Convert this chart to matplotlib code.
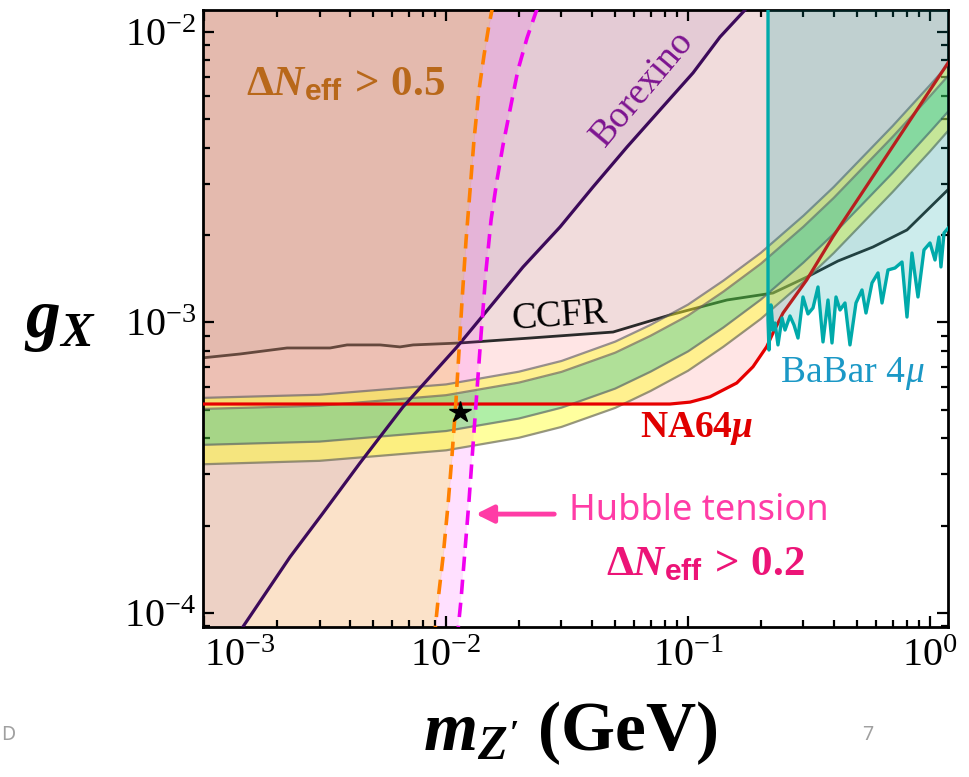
import numpy as np
import matplotlib
matplotlib.use("Agg")
import matplotlib.pyplot as plt
from matplotlib.ticker import NullFormatter

plt.rcParams["font.family"] = ["Liberation Serif", "DejaVu Serif"]
plt.rcParams["mathtext.fontset"] = "custom"
plt.rcParams["mathtext.rm"] = "Liberation Serif:bold"
plt.rcParams["mathtext.it"] = "Liberation Serif:italic:bold"
plt.rcParams["mathtext.bf"] = "Liberation Serif:bold"
plt.rcParams["mathtext.sf"] = "Liberation Sans:bold"

# ── data ────────────────────────────────────────────────────────────
# muon g-2 bands: outer (yellow) and inner (green) edges
m_band = [0.00098, 0.003, 0.01, 0.02, 0.03, 0.05, 0.07, 0.1, 0.14, 0.2, 0.3, 0.4, 0.7, 1.0, 1.2]
g_yel_top = [5.50e-4, 5.64e-4, 6.12e-4, 6.77e-4, 7.37e-4, 8.59e-4, 9.81e-4, 1.152e-3,
             1.393e-3, 1.737e-3, 2.331e-3, 2.926e-3, 4.74e-3, 6.56e-3, 7.78e-3]
g_grn_top = [5.04e-4, 5.17e-4, 5.62e-4, 6.21e-4, 6.76e-4, 7.87e-4, 9.00e-4, 1.056e-3,
             1.277e-3, 1.593e-3, 2.137e-3, 2.683e-3, 4.35e-3, 6.01e-3, 7.13e-3]
g_grn_bot = [3.79e-4, 3.89e-4, 4.23e-4, 4.67e-4, 5.09e-4, 5.92e-4, 6.77e-4, 7.95e-4,
             9.61e-4, 1.199e-3, 1.608e-3, 2.019e-3, 3.27e-3, 4.53e-3, 5.37e-3]
g_yel_bot = [3.25e-4, 3.34e-4, 3.63e-4, 4.01e-4, 4.37e-4, 5.08e-4, 5.81e-4, 6.82e-4,
             8.25e-4, 1.029e-3, 1.380e-3, 1.733e-3, 2.81e-3, 3.88e-3, 4.61e-3]

# NA64mu
m_na64 = [0.00098, 0.0842, 0.102, 0.1233, 0.159, 0.1856, 0.2114, 0.2245, 0.247,
          0.3093, 0.3973, 0.5136, 0.6626, 0.8013, 0.969, 1.19]
g_na64 = [5.24e-4, 5.24e-4, 5.32e-4, 5.55e-4, 6.19e-4, 7.04e-4, 8.25e-4, 9.20e-4, 1.078e-3,
          1.40e-3, 1.974e-3, 2.724e-3, 3.754e-3, 4.77e-3, 6.06e-3, 7.85e-3]

# CCFR
m_ccfr = [0.00098, 0.001409, 0.002203, 0.003317, 0.0039, 0.00534, 0.00645, 0.00731, 0.01143,
          0.02224, 0.049, 0.0842, 0.1449, 0.2245, 0.3101, 0.4168, 0.5814, 0.8035, 1.19]
g_ccfr = [7.55e-4, 7.79e-4, 8.17e-4, 8.17e-4, 8.37e-4, 8.37e-4, 8.24e-4, 8.37e-4, 8.50e-4,
          8.84e-4, 9.27e-4, 1.061e-3, 1.195e-3, 1.263e-3, 1.434e-3, 1.628e-3, 1.819e-3,
          2.082e-3, 2.87e-3]

# Borexino
m_bx = [0.00140, 0.002266, 0.003102, 0.00441, 0.00664, 0.0111, 0.0152, 0.0208, 0.0296,
        0.0405, 0.056, 0.0766, 0.1049, 0.1356, 0.172, 0.2]
g_bx = [8.6e-5, 1.559e-4, 2.209e-4, 3.284e-4, 5.12e-4, 8.24e-4, 1.131e-3, 1.552e-3, 2.132e-3,
        2.927e-3, 4.02e-3, 5.39e-3, 7.23e-3, 9.61e-3, 1.19e-2, 1.4e-2]

# Delta N_eff > 0.5 (orange) and > 0.2 (magenta)
m_n05 = [0.00892, 0.00927, 0.00972, 0.01019, 0.01059, 0.01100, 0.01132, 0.01165, 0.01210,
         0.01257, 0.01305, 0.01369, 0.01436, 0.01505, 0.01579]
g_n05 = [8.07e-5, 1.109e-4, 1.559e-4, 2.354e-4, 3.50e-4, 5.41e-4, 8.04e-4, 1.195e-3, 1.923e-3,
         2.858e-3, 4.25e-3, 6.32e-3, 8.33e-3, 1.057e-2, 1.289e-2]
m_n02 = [0.01110, 0.01153, 0.01198, 0.01245, 0.01293, 0.01343, 0.01395, 0.01464, 0.01535,
         0.01624, 0.01720, 0.01838, 0.01983, 0.02161, 0.02354, 0.02469]
g_n02 = [8.07e-5, 1.109e-4, 1.648e-4, 2.449e-4, 3.79e-4, 5.86e-4, 9.06e-4, 1.516e-3, 2.254e-3,
         3.094e-3, 4.08e-3, 5.39e-3, 7.40e-3, 9.53e-3, 1.172e-2, 1.289e-2]

# BaBar 4mu
m_bb = [0.2141, 0.2161, 0.2203, 0.2245, 0.2288, 0.2354, 0.2446, 0.2517, 0.2639, 0.2742, 0.2848,
        0.2987, 0.3132, 0.3285, 0.3445, 0.3613, 0.3789, 0.3936, 0.4089, 0.4248, 0.4454, 0.4670,
        0.4945, 0.5236, 0.5439, 0.5759, 0.6098, 0.6335, 0.6706, 0.7168, 0.7663, 0.8035, 0.8425,
        0.8920, 0.9445, 1.0, 1.049, 1.089, 1.110, 1.143, 1.19]
g_bb = [1.02e-3, 8.04e-4, 1.149e-3, 9.42e-4, 9.96e-4, 8.37e-4, 1.036e-3, 9.42e-4, 1.053e-3,
        9.80e-4, 8.84e-4, 1.224e-3, 1.070e-3, 1.122e-3, 1.325e-3, 8.57e-4, 1.195e-3, 8.50e-4,
        1.224e-3, 1.104e-3, 1.167e-3, 8.37e-4, 1.167e-3, 1.294e-3, 1.078e-3, 1.368e-3, 1.481e-3,
        1.167e-3, 1.516e-3, 1.540e-3, 1.615e-3, 1.044e-3, 1.734e-3, 1.224e-3, 1.777e-3, 1.878e-3,
        1.641e-3, 1.968e-3, 1.553e-3, 2.033e-3, 2.115e-3]

star_m, star_g = 0.01143, 4.93e-4

x_ticks = [1e-3, 1e-2, 1e-1, 1e0]
x_ticklabels = [r"$\mathdefault{10^{-3}}$", r"$\mathdefault{10^{-2}}$",
                r"$\mathdefault{10^{-1}}$", r"$\mathdefault{10^{0}}$"]
y_ticks = [1e-4, 1e-3, 1e-2]
y_ticklabels = [r"$\mathdefault{10^{-4}}$", r"$\mathdefault{10^{-3}}$", r"$\mathdefault{10^{-2}}$"]

TOP = 1.0

# ── figure ─────────────────────────────────────────────────────────
fig = plt.figure(figsize=(9.7, 7.77), dpi=100)
ax = fig.add_axes([203 / 970, 1 - 627 / 777, 745 / 970, 617 / 777])
ax.set_xscale("log")
ax.set_yscale("log")

# excluded regions
ax.fill_between(m_na64, g_na64, TOP, color="#ff0000", alpha=0.10, lw=0, zorder=1)
ax.fill_between(m_ccfr, g_ccfr, TOP, color="#789090", alpha=0.10, lw=0, zorder=1)
ax.plot(m_ccfr, g_ccfr, color="#2a2a2a", lw=2.0, zorder=1.2)
ax.fill_betweenx(g_n05, 1e-4, m_n05, color="#f08c28", alpha=0.25, lw=0, zorder=1.3)
ax.fill(m_n05 + m_n02[::-1], g_n05 + g_n02[::-1], color="#ff00ff", alpha=0.12, lw=0, zorder=1.3)
ax.fill_between([1e-4] + m_bx, [1e-5] + g_bx, TOP, color="#a070b0", alpha=0.15, lw=0, zorder=1.4)

# g-2 bands
ax.fill_between(m_band, g_grn_top, g_yel_top, color="#ffff28", alpha=0.45, lw=0, zorder=2)
ax.fill_between(m_band, g_yel_bot, g_grn_bot, color="#ffff28", alpha=0.45, lw=0, zorder=2)
ax.fill_between(m_band, g_grn_bot, g_grn_top, color="#50dc3c", alpha=0.45, lw=0, zorder=2)
for edge in (g_yel_top, g_grn_top, g_grn_bot, g_yel_bot):
    ax.plot(m_band, edge, color="#606060", alpha=0.65, lw=1.6, zorder=2.5)

# lines
ax.plot(m_na64, g_na64, color="#e60000", lw=2.3, zorder=3)
ax.plot(m_bx, g_bx, color="#3c0a5a", lw=2.3, zorder=3)
ax.plot(m_n05, g_n05, color="#ff8000", lw=2.6, ls=(0, (4, 2.4)), zorder=3.5)
ax.plot(m_n02, g_n02, color="#f000f0", lw=2.6, ls=(0, (4, 2.4)), zorder=3.5)

# BaBar on top
ax.fill_between(m_bb, g_bb, TOP, color="#00a0a0", alpha=0.20, lw=0, zorder=4)
ax.plot([m_bb[0]] + m_bb, [0.05] + g_bb, color="#00aaaa", lw=2.4, zorder=4.5)

ax.plot(star_m, star_g, marker="*", ms=16, color="black", zorder=6)

# labels inside
ax.text(3.83e-3, 6.57e-3, r"$\Delta N_{\mathsf{eff}}\, >\, 0.5$", color="#b8681a",
        fontsize=31, ha="center", va="center", zorder=7)
ax.text(0.0650, 6.40e-3, "Borexino", color="#7d1490", fontsize=27, rotation=50,
        ha="center", va="center", rotation_mode="anchor", zorder=7)
ax.text(0.0296, 1.05e-3, "CCFR", color="black", fontsize=27, rotation=4,
        ha="center", va="center", zorder=7)
ax.text(0.1089, 4.30e-4, r"$\mathrm{NA64}\mu$", color="#e00000", fontsize=27,
        ha="center", va="center", zorder=7)
ax.text(0.79, 6.70e-4, "BaBar 4", color="#1b98c6", fontsize=27,
        ha="right", va="center", zorder=7)
ax.text(0.79, 6.70e-4, "\u03bc", color="#1b98c6", fontsize=27, style="italic",
        ha="left", va="center", zorder=7)
ax.text(0.111, 2.24e-4, "Hubble tension", color="#ff3ca6", fontsize=26,
        family="Noto Sans", ha="center", va="center", zorder=7)
ax.text(0.1175, 1.46e-4, r"$\Delta N_{\mathsf{eff}}\, >\, 0.2$", color="#ec1477",
        fontsize=31, ha="center", va="center", zorder=7)
ax.annotate("", xy=(0.01293, 2.19e-4), xytext=(0.02875, 2.19e-4),
            arrowprops=dict(arrowstyle="-|>", color="#ff3ca6", lw=3.5, mutation_scale=26),
            zorder=7)

# axes
ax.set_xlim(0.99e-3, 1.187)
ax.set_ylim(8.95e-5, 1.19e-2)
ax.set_xticks(x_ticks, labels=x_ticklabels)
ax.set_yticks(y_ticks, labels=y_ticklabels)
ax.xaxis.set_minor_formatter(NullFormatter())
ax.yaxis.set_minor_formatter(NullFormatter())
ax.tick_params(which="both", direction="in", top=True, right=True, width=1.6, labelsize=29)
ax.tick_params(which="major", length=8)
ax.tick_params(which="minor", length=5)
ax.tick_params(axis="x", pad=8)
ax.tick_params(axis="y", pad=5)
ax.get_xticklabels()[0].set_horizontalalignment("left")
for s in ax.spines.values():
    s.set_linewidth(2.0)

fig.text(60 / 970, 1 - 322 / 777, r"$g_X$", fontsize=50, ha="center", va="center")
fig.text(570 / 970, 1 - 733 / 777, r"$m_{Z'}\;(\mathrm{GeV})$", fontsize=50,
         ha="center", va="center")
fig.text(868 / 970, 1 - 735 / 777, "7", color="#a0a0a0", fontsize=14, family="Noto Sans",
         ha="center", va="center")
fig.text(1 / 970, 1 - 735 / 777, "D", color="#a0a0a0", fontsize=14, family="Noto Sans",
         ha="left", va="center")

fig.savefig("out.png", dpi=100)
